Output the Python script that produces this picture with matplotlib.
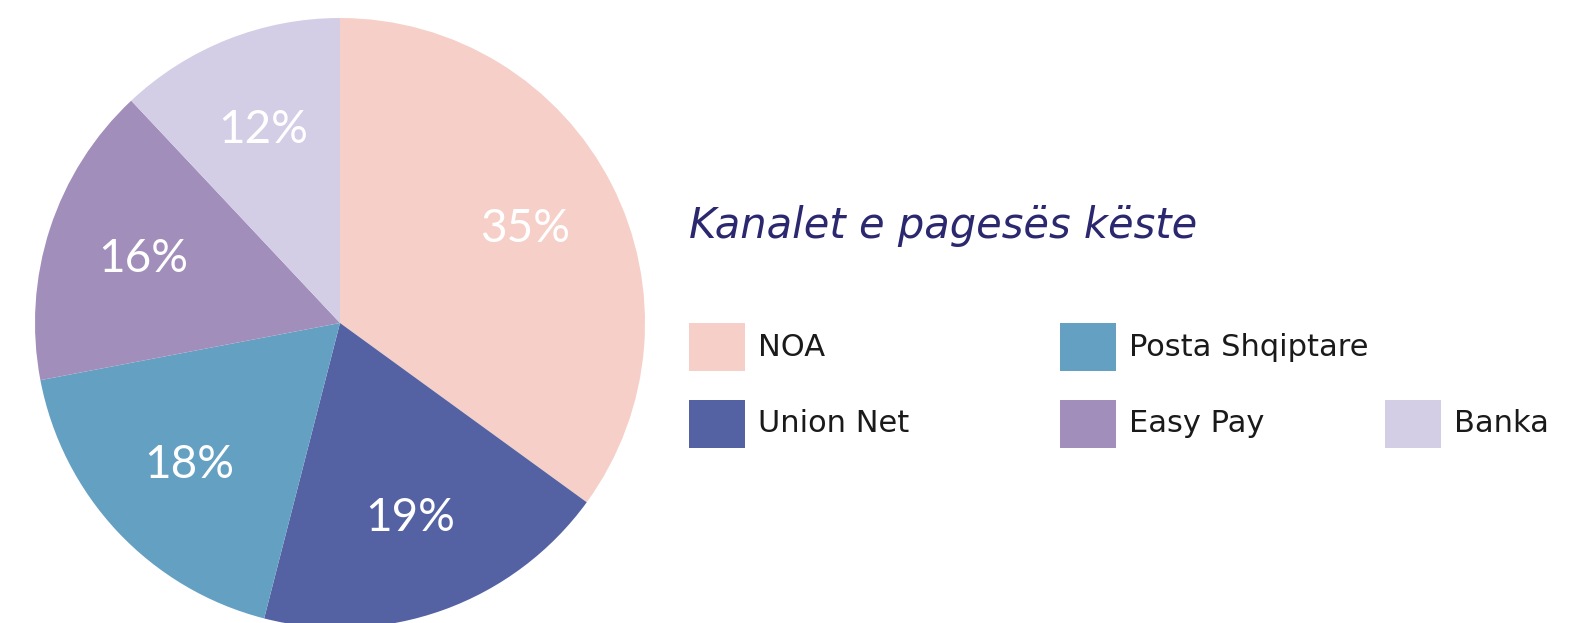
import matplotlib.pyplot as plt
from matplotlib.patches import Rectangle

labels = ["NOA", "Union Net", "Posta Shqiptare", "Easy Pay", "Banka"]
shares = [35, 19, 18, 16, 12]
colors = ["#f6d0c8", "#5462a4", "#64a0c2", "#a18eba", "#d4cde6"]
title = "Kanalet e pagesës këste"

W, H = 1593, 623
fig = plt.figure(figsize=(W / 100, H / 100), dpi=100)
plt.rcParams["font.family"] = ["DejaVu Sans"]

# pie: centre ~ (340, 323) px, radius ~305 px
cx, cy, r = 340, 323, 305
ax = fig.add_axes([(cx - r) / W, (H - cy - r) / H, 2 * r / W, 2 * r / H])
wedges, _, autotexts = ax.pie(shares, colors=colors, startangle=90, counterclock=False,
                              radius=1, autopct="%d%%", pctdistance=0.68,
                              wedgeprops=dict(linewidth=0))
for t in autotexts:
    t.set_color("white")
    t.set_fontsize(33)
    t.set_family("Lato")
ax.set_xlim(-1, 1)
ax.set_ylim(-1, 1)
ax.set_aspect("equal")
ax.axis("off")

# legend, drawn by hand
fig.text(689 / W, 1 - 226 / H, title, fontsize=30, style="italic",
         color="#2b2870", va="center", ha="left")

# column-major: NOA/Union Net, Posta/Easy Pay, blank/Banka
slots = [(689, 347), (689, 424), (1060, 347), (1060, 424), (1385, 424)]
sq_w, sq_h = 56, 48
for (x, y), lab, col in zip(slots, labels, colors):
    fig.patches.append(Rectangle((x / W, 1 - (y + sq_h / 2) / H), sq_w / W, sq_h / H,
                                 transform=fig.transFigure, color=col, lw=0))
    fig.text((x + sq_w + 13) / W, 1 - y / H, lab, fontsize=22, color="#1a1a1a",
             va="center", ha="left")

fig.savefig("out.png", dpi=100)
